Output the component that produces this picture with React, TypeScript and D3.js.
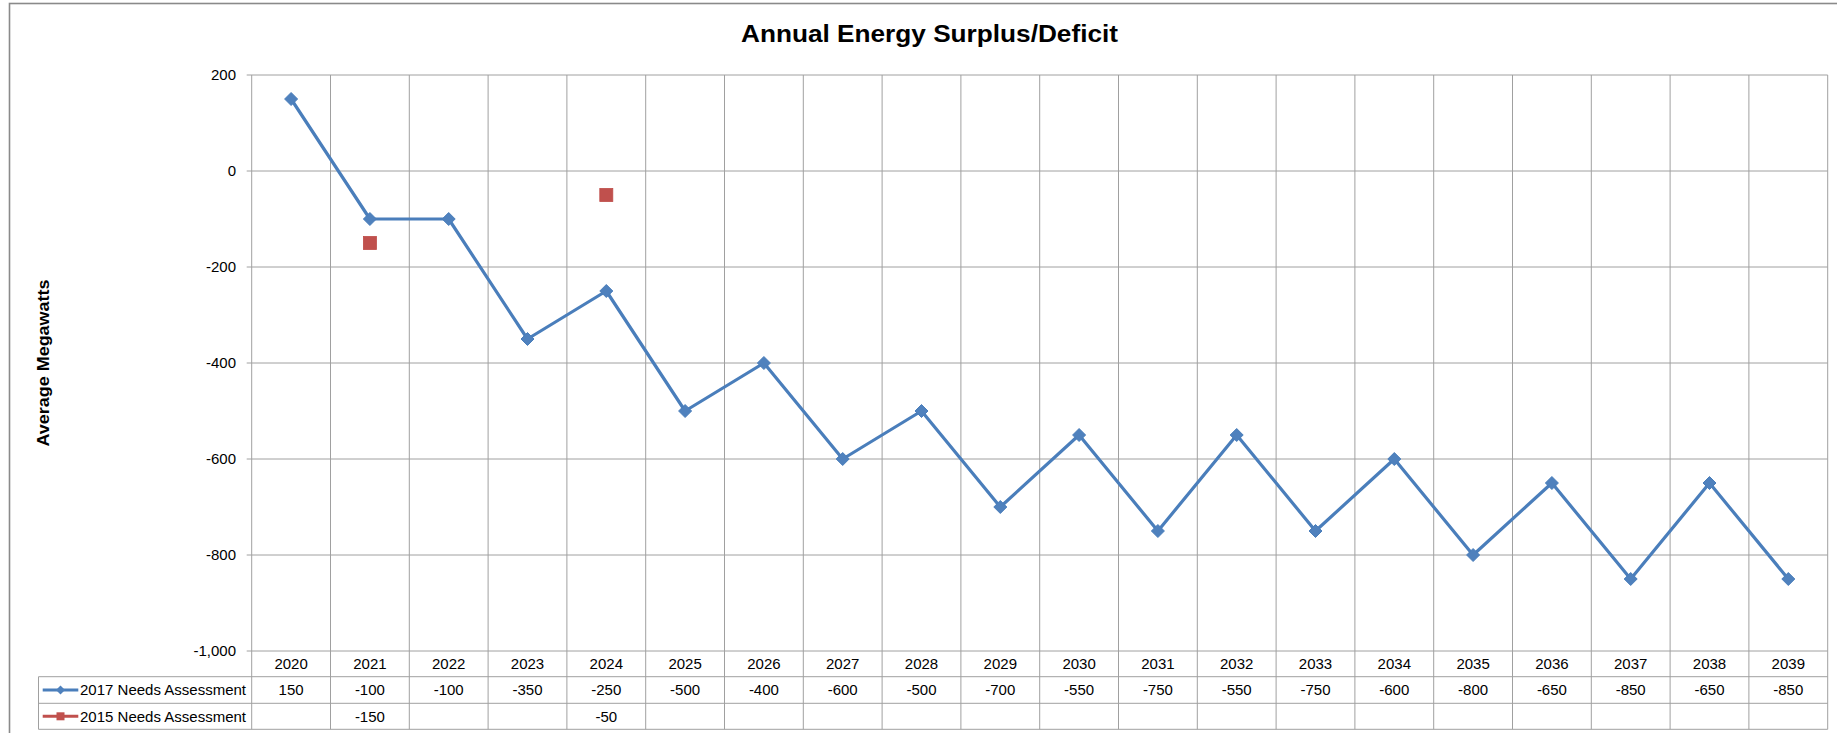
import React from "react";
import * as d3 from "d3";

const years = ["2020","2021","2022","2023","2024","2025","2026","2027","2028","2029","2030","2031","2032","2033","2034","2035","2036","2037","2038","2039"];
const needs2017: (number | null)[] = [150,-100,-100,-350,-250,-500,-400,-600,-500,-700,-550,-750,-550,-750,-600,-800,-650,-850,-650,-850];
const needs2015: (number | null)[] = [null,-150,null,null,-50,null,null,null,null,null,null,null,null,null,null,null,null,null,null,null];
const yTicks = [200, 0, -200, -400, -600, -800, -1000];
const seriesNames = ["2017 Needs Assessment", "2015 Needs Assessment"];
const titleText = "Annual Energy Surplus/Deficit";
const yTitle = "Average Megawatts";

const W = 1837, H = 733;
const plotL = 251.7, plotR = 1827.7, plotT = 75, plotB = 651;
const tableL = 38.5;
const rowH = [651, 676.7, 703.3, 729.3];
const blue = "#4A7EBB";
const blueM = "#4F81BD";
const red = "#C0504D";
const grid = "#a0a0a0";
const font = "'Liberation Sans', Arial, sans-serif";

const fmt = (v: number) => d3.format(",")(v).replace("\u2212", "-");

export default function App() {
  const x = d3.scaleBand<string>().domain(years).range([plotL, plotR]).padding(0);
  const y = d3.scaleLinear().domain([-1000, 200]).range([plotB, plotT]);
  const cx = (yr: string) => (x(yr) as number) + x.bandwidth() / 2;

  const line = d3
    .line<number | null>()
    .defined((d) => d !== null)
    .x((_, i) => cx(years[i]))
    .y((d) => y(d as number));

  const diamond = (px: number, py: number, r: number) =>
    `M${px},${py - r}L${px + r},${py}L${px},${py + r}L${px - r},${py}Z`;

  const rowCenters = [(rowH[1] + rowH[2]) / 2, (rowH[2] + rowH[3]) / 2];

  return (
    <svg width={W} height={H} style={{ position: "absolute", left: 0, top: 0, background: "#fff" }}>
      <rect x={0} y={0} width={W} height={H} fill="#fff" />
      <rect x={9.5} y={3.5} width={2000} height={1000} fill="none" stroke="#8a8a8a" strokeWidth={1.6} />

      {/* title */}
      <text x={929.5} y={42} textAnchor="middle" fontFamily={font} fontWeight="bold" fontSize={23}
        textLength={377} lengthAdjust="spacingAndGlyphs" fill="#000">{titleText}</text>

      {/* y axis title */}
      <text transform="translate(49,363) rotate(-90)" textAnchor="middle" fontFamily={font} fontWeight="bold"
        fontSize={16} textLength={167} lengthAdjust="spacingAndGlyphs" fill="#000">{yTitle}</text>

      {/* horizontal gridlines */}
      {yTicks.map((t) => (
        <line key={"h" + t} x1={plotL - 5} x2={plotR} y1={y(t)} y2={y(t)} stroke={grid} strokeWidth={1} />
      ))}
      {/* vertical gridlines (plot + table) */}
      {years.map((yr) => (
        <line key={"v" + yr} x1={x(yr) as number} x2={x(yr) as number} y1={plotT} y2={rowH[3]} stroke={grid} strokeWidth={1} />
      ))}
      <line x1={plotR} x2={plotR} y1={plotT} y2={rowH[3]} stroke={grid} strokeWidth={1} />
      {/* table rows */}
      {rowH.slice(1).map((ry, i) => (
        <line key={"r" + i} x1={tableL} x2={plotR} y1={ry} y2={ry} stroke={grid} strokeWidth={1} />
      ))}
      <line x1={tableL} x2={tableL} y1={rowH[1]} y2={rowH[3]} stroke={grid} strokeWidth={1} />

      {/* y tick labels */}
      {yTicks.map((t) => (
        <text key={"yt" + t} x={236} y={y(t) + 5} textAnchor="end" fontFamily={font} fontSize={15} fill="#000">{fmt(t)}</text>
      ))}

      {/* series */}
      <path d={line(needs2017) || ""} fill="none" stroke={blue} strokeWidth={3.2} strokeLinejoin="round" />
      {needs2017.map((v, i) =>
        v === null ? null : <path key={"d" + i} d={diamond(cx(years[i]), y(v), 6.5)} fill={blueM} stroke={blue} strokeWidth={1} />
      )}
      {needs2015.map((v, i) =>
        v === null ? null : (
          <rect key={"s" + i} x={cx(years[i]) - 6.5} y={y(v) - 6.5} width={13} height={13} fill={red} stroke="#BE4B48" strokeWidth={0.8} />
        )
      )}

      {/* table: year header */}
      {years.map((yr) => (
        <text key={"yr" + yr} x={cx(yr)} y={669} textAnchor="middle" fontFamily={font} fontSize={15} fill="#000">{yr}</text>
      ))}
      {/* table values */}
      {needs2017.map((v, i) =>
        v === null ? null : (
          <text key={"t1" + i} x={cx(years[i])} y={695} textAnchor="middle" fontFamily={font} fontSize={15} fill="#000">{fmt(v)}</text>
        )
      )}
      {needs2015.map((v, i) =>
        v === null ? null : (
          <text key={"t2" + i} x={cx(years[i])} y={721.5} textAnchor="middle" fontFamily={font} fontSize={15} fill="#000">{fmt(v)}</text>
        )
      )}

      {/* legend keys */}
      <line x1={42.7} x2={78.3} y1={rowCenters[0]} y2={rowCenters[0]} stroke={blue} strokeWidth={3} />
      <path d={diamond(60.5, rowCenters[0], 4.5)} fill={blueM} />
      <text x={80} y={695} fontFamily={font} fontSize={15} textLength={166} lengthAdjust="spacingAndGlyphs" fill="#000">{seriesNames[0]}</text>
      <line x1={42.7} x2={78.3} y1={rowCenters[1]} y2={rowCenters[1]} stroke={red} strokeWidth={3} />
      <rect x={56.5} y={rowCenters[1] - 4} width={8} height={8} fill={red} />
      <text x={80} y={721.5} fontFamily={font} fontSize={15} textLength={166} lengthAdjust="spacingAndGlyphs" fill="#000">{seriesNames[1]}</text>
    </svg>
  );
}
